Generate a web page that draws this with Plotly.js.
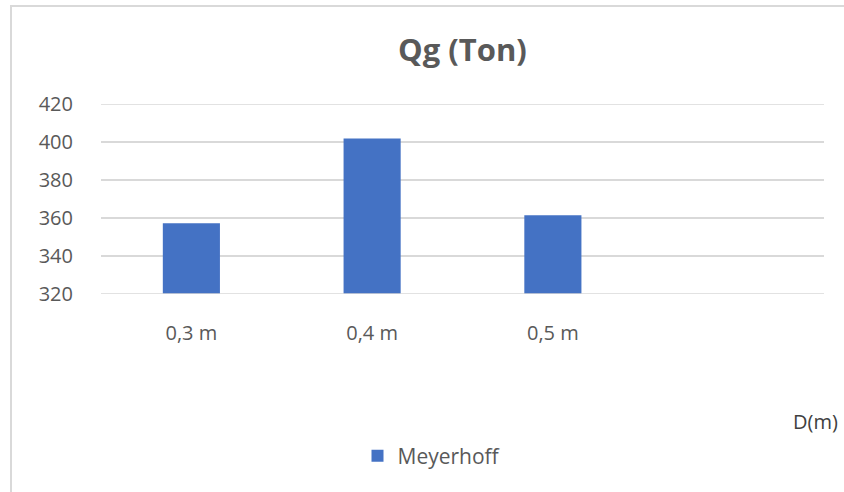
<!DOCTYPE html>
<html>
<head>
<meta charset="utf-8">
<script src="https://cdn.plot.ly/plotly-3.0.1.min.js"></script>
<style>
  html, body { margin: 0; padding: 0; background: #fff; }
  #wrap { position: relative; width: 844px; height: 492px; overflow: hidden; }
  #chart { position: absolute; left: 0; top: 0; width: 844px; height: 492px; }
  #frame { position: absolute; left: 10px; top: 5px; width: 900px; height: 600px;
           border-left: 2px solid #d9d9d9; border-top: 2px solid #d9d9d9; pointer-events: none; }
</style>
</head>
<body>
<div id="wrap">
  <div id="chart"></div>
  <div id="frame"></div>
</div>
<script>
const categories = ['0,3 m', '0,4 m', '0,5 m'];
const meyerhoff = [357.2, 401.8, 361.4];
const seriesName = 'Meyerhoff';
const chartTitle = 'Qg (Ton)';
const xTitle = 'D(m)';
const yTicks = [320, 340, 360, 380, 400, 420];

const FONT = '"Open Sans", "Noto Sans", sans-serif';
const GREY = '#595959';

const L = 101, R = 824, T = 104, B = 294;
const W = 844, H = 492;

const trace = {
  type: 'bar',
  x: categories,
  y: meyerhoff,
  name: seriesName,
  marker: { color: '#4472C4' },
  showlegend: true,
  hoverinfo: 'x+y'
};

const layout = {
  width: W, height: H,
  margin: { l: L, r: W - R, t: T, b: H - B, pad: 0 },
  paper_bgcolor: '#ffffff',
  plot_bgcolor: '#ffffff',
  font: { family: FONT, color: GREY, size: 20 },
  title: {
    text: '<b>' + chartTitle + '</b>',
    font: { family: FONT, size: 31, color: GREY },
    x: 0.5, xanchor: 'center', xref: 'paper',
    y: 1 - 50 / H, yanchor: 'middle', yref: 'container'
  },
  bargap: 0.684,
  xaxis: {
    type: 'category',
    categoryorder: 'array',
    categoryarray: categories,
    range: [-0.5, 3.5],
    showgrid: false,
    zeroline: false,
    showline: false,
    ticks: 'outside',
    ticklen: 21,
    tickcolor: 'rgba(0,0,0,0)',
    tickfont: { family: FONT, size: 20, color: GREY },
    fixedrange: true
  },
  yaxis: {
    range: [320, 420],
    tickvals: yTicks,
    showgrid: true,
    gridcolor: '#d9d9d9',
    gridwidth: 1.5,
    zeroline: false,
    showline: false,
    ticks: 'outside',
    ticklen: 23,
    tickcolor: 'rgba(0,0,0,0)',
    tickfont: { family: FONT, size: 20, color: GREY },
    fixedrange: true
  },
  shapes: [
    { type: 'line', xref: 'paper', yref: 'y', x0: 0, x1: 1, y0: 320, y1: 320,
      line: { color: '#d9d9d9', width: 1.5 } },
    { type: 'line', xref: 'paper', yref: 'y', x0: 0, x1: 1, y0: 420, y1: 420,
      line: { color: '#d9d9d9', width: 1.5 } }
  ],
  legend: {
    orientation: 'h',
    itemwidth: 30,
    x: (432 - L) / (R - L), xanchor: 'center',
    y: (B - 456) / (B - T), yanchor: 'middle',
    font: { family: FONT, size: 21, color: GREY },
    bgcolor: 'rgba(0,0,0,0)'
  },
  annotations: [
    { text: xTitle, xref: 'paper', yref: 'paper',
      x: (791 - L) / (R - L), xanchor: 'left',
      y: (B - 421) / (B - T), yanchor: 'middle',
      showarrow: false,
      font: { family: FONT, size: 20, color: '#404040' } }
  ]
};

Plotly.newPlot('chart', [trace], layout, { displayModeBar: false, staticPlot: true });
</script>
</body>
</html>
